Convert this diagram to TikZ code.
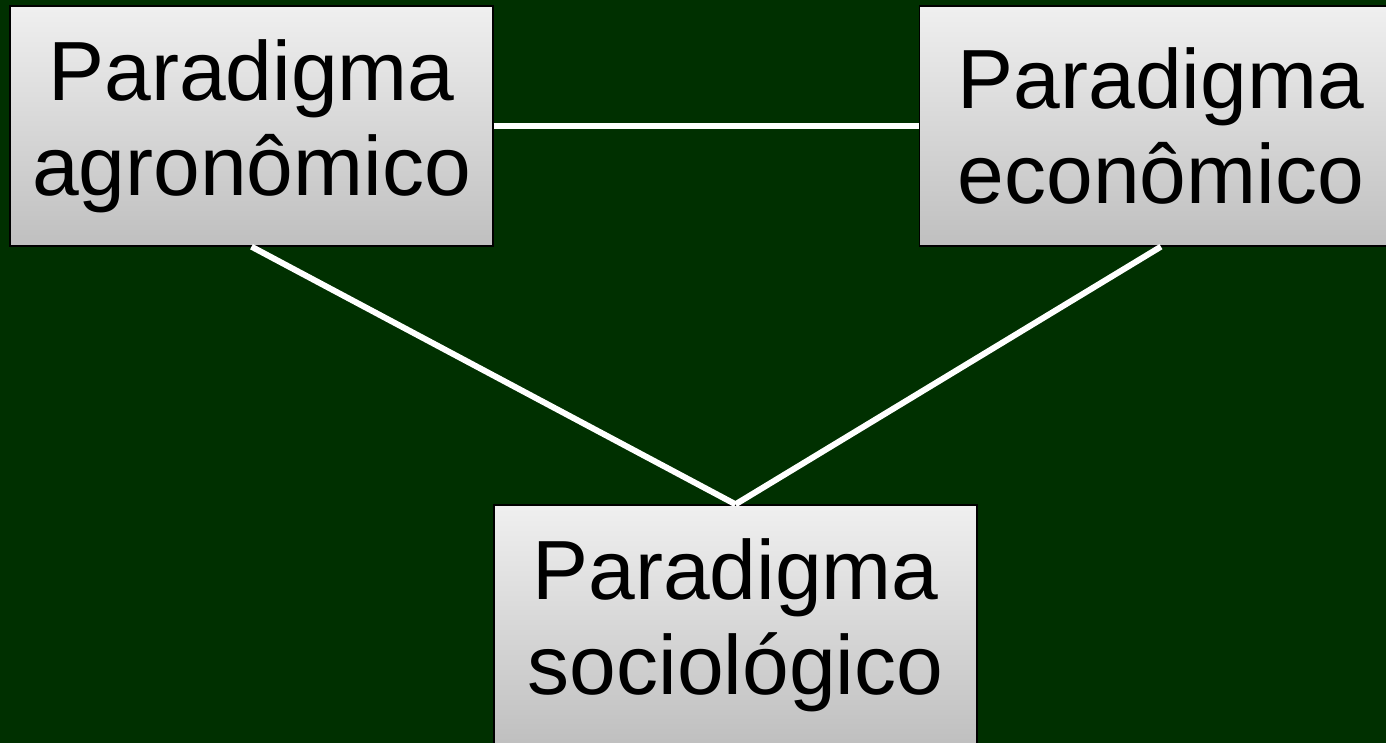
\documentclass[tikz,border=0pt]{standalone}
\usepackage{fontspec}
\setmainfont{Liberation Sans}
\usetikzlibrary{positioning, shadows}

\definecolor{bggreen}{RGB}{0,48,0}

\begin{document}
\begin{tikzpicture}[%
  paradigma/.style={draw=black, line width=0.4pt, align=center,
    minimum width=4.83cm, minimum height=2.40cm, inner sep=0pt,
    top color=gray!12, bottom color=gray!50,
    font=\fontsize{23.9}{27}\selectfont},
  link/.style={draw=white, line width=1.7pt}]
  \fill[bggreen] (0,0) rectangle (13.86,-7.43);
  \useasboundingbox (0,0) rectangle (13.86,-7.43);
  \node[paradigma] (agro) at (2.515,-1.26) {Paradigma\\agronômico};
  \node[paradigma, right=4.25cm of agro] (econ) {Paradigma\\econômico};
  \node[paradigma] (socio) at (7.355,-6.25) {Paradigma\\sociológico};
  \draw[link] (agro) -- (econ);
  \draw[link] (agro.south) -- (socio.north);
  \draw[link] (econ.south) -- (socio.north);
\end{tikzpicture}
\end{document}
